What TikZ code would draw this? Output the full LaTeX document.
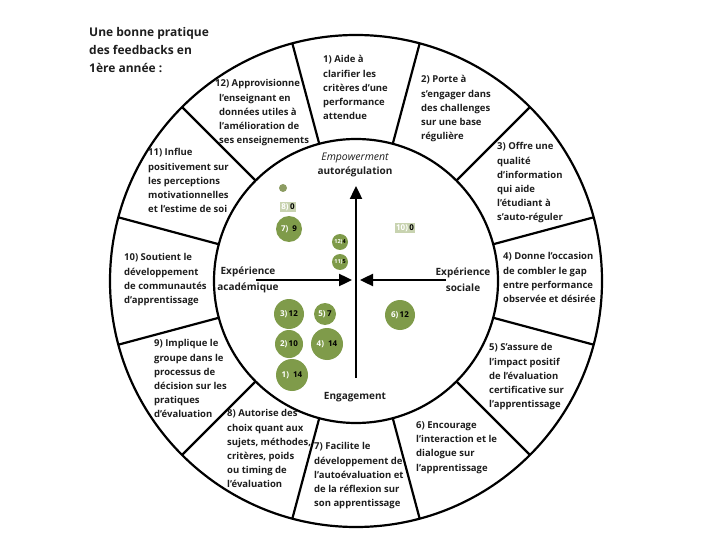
\documentclass[tikz,border=0pt]{standalone}
\usepackage{fontspec}
\setmainfont{Open Sans}
\usetikzlibrary{arrows.meta}
\definecolor{bub}{HTML}{7F9B4A}
\definecolor{bubdark}{HTML}{8C9C62}
\definecolor{boxg}{HTML}{C8D3B0}
\definecolor{ink}{HTML}{1E1E1E}
\begin{document}
\begin{tikzpicture}[x=1pt,y=-1pt,
  ring/.style={line width=2.2pt, draw=black},
  sect/.style={anchor=north west, align=left, inner sep=0pt, text=ink, font=\fontsize{9.5}{14.2}\selectfont\bfseries},
  lab/.style={inner sep=0pt, text=ink, font=\fontsize{10}{16}\selectfont\bfseries, align=center},
  bubble/.style={circle, fill=bub, inner sep=0pt, text=black, font=\fontsize{8}{8}\selectfont\bfseries},
  smallbubble/.style={bubble, font=\fontsize{5.5}{5.5}\selectfont\bfseries},
  gbox/.style={rectangle, fill=boxg, inner sep=1.5pt, text=black, font=\fontsize{8}{8}\selectfont\bfseries},
  axis/.style={line width=2.4pt, -{Triangle[length=13pt,width=12pt]}}]

\useasboundingbox (0,0) rectangle (720,540);
\coordinate (c) at (356,281);
\draw[ring] (c) circle[radius=246];
\draw[ring] (c) circle[radius=142];
\foreach \a in {15,45,...,345} \draw[ring, shift={(c)}] (\a:142) -- (\a:246);

% title
\node[anchor=north west, align=left, inner sep=0pt, text=ink, font=\fontsize{12}{18}\selectfont\bfseries] (title) at (89,27) {Une bonne pratique\\des feedbacks en\\1ère année :};

% sector texts
\node[sect] (s1) at (323,55.5) {1) Aide à\\clarifier les\\critères d'une\\performance\\attendue};
\node[sect] (s2) at (421,75.5) {2) Porte à\\s'engager dans\\des challenges\\sur une base\\régulière};
\node[sect] (s3) at (497,142.5) {3) Offre une\\qualité\\d'information\\qui aide\\l'étudiant à\\s'auto-réguler};
\node[sect] (s4) at (503,252.5) {4) Donne l'occasion\\de combler le gap\\entre performance\\observée et désirée};
\node[sect] (s5) at (489,343.5) {5) S'assure de\\l'impact positif\\de l'évaluation\\certificative sur\\l'apprentissage};
\node[sect] (s6) at (416,421.5) {6) Encourage\\l'interaction et le\\dialogue sur\\l'apprentissage};
\node[sect] (s7) at (314,442.5) {7) Facilite le\\développement de\\l'autoévaluation et\\de la réflexion sur\\son apprentissage};
\node[sect] (s8) at (227,409.5) {8) Autorise des\\choix quant aux\\sujets, méthodes,\\critères, poids\\ou timing de\\l'évaluation};
\node[sect] (s9) at (154,339.5) {9) Implique le\\groupe dans le\\processus de\\décision sur les\\pratiques\\d'évaluation};
\node[sect] (s10) at (124,253.5) {10) Soutient le\\développement\\de communautés\\d'apprentissage};
\node[sect] (s11) at (148,148.5) {11) Influe\\positivement sur\\les perceptions\\motivationnelles\\et l'estime de soi};
\node[sect] (s12) at (219,79.5) {\hspace*{-4pt}12) Approvisionne\\l'enseignant en\\données utiles à\\l'amélioration de\\ses enseignements};

% axes
\coordinate (vb) at (356,378);
\coordinate (vt) at (356,186);
\coordinate (lb) at (256,280);
\coordinate (lt) at (352,280);
\coordinate (rb) at (446,280);
\coordinate (rt) at (360,280);
\draw[axis] (vb) -- (vt);
\draw[axis] (lb) -- (lt);
\draw[axis] (rb) -- (rt);

% axis labels
\node[lab, font=\fontsize{10.5}{16}\selectfont\itshape] (emp) at (355,158) {Empowerment};
\node[lab] (auto) at (355,172) {autorégulation};
\node[lab] (expa) at (248,280) {Expérience\\académique};
\node[lab] (exps) at (463,280) {Expérience\\sociale};
\node[lab] (eng) at (355,397) {Engagement};

% bubbles
\node[circle, fill=bubdark, minimum size=8pt, inner sep=0pt] (b9) at (283,188) {};
\node[gbox] (b8) at (288,207) {\textcolor{white}{8)}\,0};
\node[bubble, minimum size=26pt] (b7) at (289,229) {\textcolor{white}{7)}\ \ 9};
\node[smallbubble, minimum size=16pt] (b12) at (340,242) {\textcolor{white}{12)}4};
\node[smallbubble, minimum size=16pt] (b11) at (340,262) {\textcolor{white}{11)}5};
\node[gbox] (b10) at (405,228) {\textcolor{white}{10)}\,0};
\node[bubble, minimum size=30pt] (b3) at (289,314) {\textcolor{white}{3)}\,12};
\node[bubble, minimum size=22pt] (b5) at (325,314) {\textcolor{white}{5)}\,7};
\node[bubble, minimum size=28pt] (b2) at (289,344) {\textcolor{white}{2)}\,10};
\node[bubble, minimum size=32pt] (b4) at (327,344) {\textcolor{white}{4)}\ \ 14};
\node[bubble, minimum size=32pt] (b1) at (292,375) {\textcolor{white}{1)}\ \ 14};
\node[bubble, minimum size=30pt] (b6) at (400,315) {\textcolor{white}{6)}\,12};
\end{tikzpicture}
\end{document}
